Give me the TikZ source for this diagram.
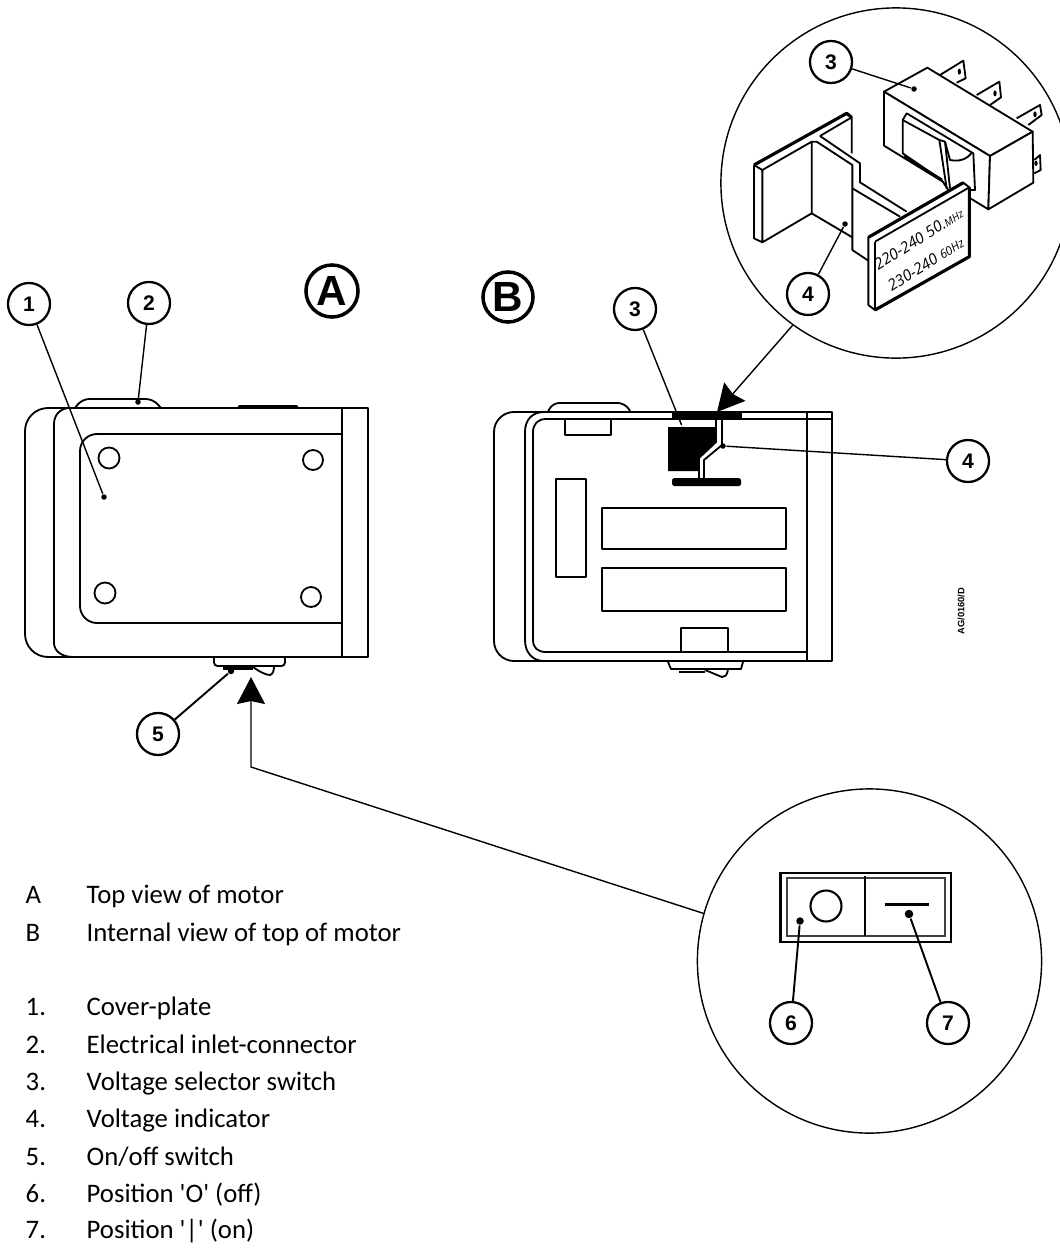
\documentclass[tikz,border=0pt]{standalone}
\usepackage{fontspec}
\setmainfont{Carlito}
\newfontfamily\calloutfont{Liberation Sans}
\newfontfamily\handfont{Open Sans}
\usetikzlibrary{arrows.meta}

\tikzset{
	outline/.style={line width=.52pt, line join=round},
	thickline/.style={line width=.9pt, line join=round},
	callout/.style={shape=circle, draw=black, fill=white, line width=.65pt, minimum size=4.2mm, inner sep=0pt, font=\calloutfont\bfseries\fontsize{6}{7}\selectfont},
	viewmark/.style={shape=circle, draw=black, line width=1pt, inner sep=0pt, font=\calloutfont\bfseries\fontsize{12}{13}\selectfont},
	lens/.style={shape=circle, draw=black, line width=.4pt, inner sep=0pt},
	dotmark/.style={shape=circle, fill=black, inner sep=0pt, minimum size=.55mm},
	legend/.style={anchor=base west, inner sep=0pt, font=\fontsize{7.6}{9}\selectfont},
	hand/.style={rotate=32, inner sep=0pt, align=left, font=\handfont\itshape\fontsize{4.4}{7.2}\selectfont},
}

\begin{document}
\begin{tikzpicture}[x=.01cm, y=-.01cm]
	\useasboundingbox (0,0) rectangle (1059,1248);

	% enlarged views
	\node[lens, minimum size=3.5cm] (lenstop) at (896,183) {};
	\node[lens, minimum size=3.44cm] (lensbottom) at (869.5,961) {};

	% motor A
	\draw[outline] (48,408) -- (368,408) -- (368,657) -- (48,657) arc[start angle=90, end angle=180, radius=23] -- (25,431) arc[start angle=180, end angle=270, radius=23];
	\draw[outline] (68,408) .. controls (60,409) and (54,415) .. (54,424) -- (54,643) .. controls (54,651) and (62,657) .. (73,657);
	\draw[outline] (342,408) -- (342,657);
	\draw[outline] (342,434) -- (97,434) arc[start angle=270, end angle=180, radius=17] -- (80,606) arc[start angle=180, end angle=90, radius=17] -- (342,623);
	\draw[outline] (109,458) circle[radius=10.5];
	\draw[outline] (313,460) circle[radius=10];
	\draw[outline] (105,593) circle[radius=10.5];
	\draw[outline] (311,597) circle[radius=10];
	\draw[outline, rounded corners=2] (75,408) -- (82,399) -- (153,399) -- (161,408);
	\fill (237,408) -- (239,405) -- (297,405) -- (299,408) -- cycle;
	\draw[outline, rounded corners=1] (214,658) -- (214,666) -- (285,666) -- (285,658);
	\fill (223,666) rectangle (253,670);
	\draw[outline] (253,667) .. controls (260,672) and (266,675) .. (270,675) .. controls (273,674) and (274,671) .. (274,666);

	% motor B
	\draw[outline] (514,412) -- (832,412) -- (832,661) -- (514,661) arc[start angle=90, end angle=180, radius=20] -- (494,432) arc[start angle=180, end angle=270, radius=20];
	\draw[outline] (544,412) .. controls (532,412) and (525,420) .. (525,432) -- (525,640) .. controls (525,653) and (533,661) .. (544,661);
	\draw[outline] (546,419) -- (832,419);
	\draw[outline] (546,419) .. controls (538,419) and (533,424) .. (533,432) -- (533,640) .. controls (533,648) and (538,652) .. (546,652) -- (807,652);
	\draw[outline] (807,412) -- (807,661);
	\draw[outline, rounded corners=2] (548,412) -- (552,403) -- (625,403) -- (630,411);
	\draw[outline] (565,420) -- (565,435) -- (611,435) -- (611,420);
	\fill (672,412) rectangle (742,419);
	\fill (668,427) -- (716,427) -- (716,442) -- (699,458) -- (699,471) -- (668,471) -- cycle;
	\draw[outline] (716,419) -- (716,442) -- (699,458) -- (699,478);
	\draw[outline] (722,419) -- (722,445) -- (704,460) -- (704,478);
	\fill[rounded corners=.5] (672,478) rectangle (741,486);
	\draw[outline] (556,479) rectangle (586,577);
	\draw[outline] (602,508) rectangle (786,549);
	\draw[outline] (602,568) rectangle (786,611);
	\draw[outline] (681,652) -- (681,628) -- (728,628) -- (728,652);
	\draw[outline] (668,662) -- (671,669) -- (741,669) -- (743,662);
	\draw[line width=.8pt] (679,672) -- (705,672);
	\draw[outline] (705,670) -- (722,677) .. controls (725,677) and (727,676) .. (728,669);

	% voltage selector switch and voltage indicator, traced on a 3x grid
	\begin{scope}[shift={(700,0)}, x=.01cm/3, y=-.01cm/3]
		\draw[outline] (720,225) -- (790,182) -- (797,235) -- (770,248);
		\draw[outline] (830,285) -- (898,245) -- (903,292) -- (870,315);
		\draw[outline] (950,355) -- (1020,315) -- (1025,345) -- (985,375);
		\draw[outline] (1003,480) -- (1020,465) -- (1022,510) -- (1003,520);
		\fill (778,215) ellipse[x radius=5, y radius=9];
		\fill (885,280) ellipse[x radius=5, y radius=9];
		\fill (1005,343) ellipse[x radius=5, y radius=9];
		\fill (1008,490) ellipse[x radius=5, y radius=8];
		\draw[outline, fill=white] (552,275) -- (682,203) -- (998,395) -- (870,468) -- cycle;
		\draw[outline, fill=white] (552,275) -- (552,437) -- (865,628) -- (870,468) -- cycle;
		\draw[outline, fill=white] (870,468) -- (998,395) -- (1000,548) -- (865,628) -- cycle;
		\draw[outline, fill=white] (620,340) -- (820,460) -- (825,570) -- (745,570) -- (725,540) -- (608,460) -- (608,360) -- cycle;
		\draw[outline] (608,360) -- (718,420) -- (740,565);
		\draw[outline] (718,420) -- (735,425) -- (750,480) .. controls (775,485) and (800,480) .. (815,458);
		\draw[outline] (735,425) -- (750,565);
		\draw[thickline] (612,470) -- (725,540);

		\draw[thickline] (162,495) -- (440,340) -- (455,352);
		\draw[outline] (162,495) -- (162,715) -- (187,727) -- (335,640) -- (335,425) -- (187,510) -- (187,727);
		\draw[outline] (162,495) -- (187,510);
		\draw[outline] (360,408) -- (455,352) -- (455,460);
		\draw[outline] (335,425) -- (350,425) -- (457,495) -- (457,750) -- (505,782);
		\draw[outline] (335,640) -- (457,712);
		\draw[outline] (360,408) -- (480,490) -- (480,547) -- (620,635);
		\draw[outline] (457,565) -- (600,650);
		\draw[outline, fill=white] (505,712) -- (790,548) -- (808,562) -- (808,770) -- (525,930) -- (505,915) -- cycle;
		\draw[thickline] (505,712) -- (790,548);
		\draw[thickline] (525,930) -- (808,770) -- (808,562);
		\draw[outline] (525,725) -- (808,562);
		\draw[outline] (525,725) -- (525,930);
		\node[hand] (volt) at (676,748) {220-240 50.{\fontsize{3}{3}\selectfont MHz}\\230-240 {\fontsize{3.4}{3}\selectfont 60Hz}};
	\end{scope}

	% on/off switch, enlarged
	\draw[line width=.6pt] (780.5,873) rectangle (951,942);
	\draw[line width=.55pt, black!75] (787,878) rectangle (945,936);
	\draw[line width=.55pt] (865,876) -- (865,936);
	\draw[line width=.6pt] (826,906) circle[radius=15.5];
	\draw[line width=.8pt] (885,904.5) -- (929,904.5);

	% view marks
	\node[viewmark, minimum size=5.2mm] (viewa) at (332,291) {A};
	\node[viewmark, minimum size=5mm] (viewb) at (508,297) {B};

	% callouts
	\node[callout] (c1) at (29,304) {1};
	\node[callout] (c2) at (149,303) {2};
	\node[callout] (c3) at (635,309) {3};
	\node[callout] (c4) at (968,461) {4};
	\node[callout] (c5) at (158,734) {5};
	\node[callout] (c6) at (791,1023) {6};
	\node[callout] (c7) at (948,1023) {7};
	\node[callout] (c3up) at (831,62) {3};
	\node[callout] (c4up) at (808,294) {4};

	\node[dotmark] (d1) at (104,497) {};
	\node[dotmark] (d2) at (138,402) {};
	\node[dotmark, minimum size=.1mm] (d3) at (682,426) {};
	\node[dotmark] (d4) at (723,446) {};
	\node[dotmark, minimum size=.65mm] (d5) at (231,671) {};
	\node[dotmark, minimum size=.75mm] (d6) at (800,921) {};
	\node[dotmark, minimum size=.85mm] (d7) at (909,914) {};
	\node[dotmark] (d3up) at (914,89) {};
	\node[dotmark] (d4up) at (845,224) {};

	\begin{scope}[line width=.4pt]
		\path [draw] (c1) edge (d1);
		\path [draw] (c2) edge (d2);
		\path [draw] (c3) edge (d3);
		\path [draw] (c4) edge (d4);
		\path [draw, line width=.55pt] (c5) edge (d5);
		\path [draw, line width=.55pt] (c6) edge (d6);
		\path [draw, line width=.55pt] (c7) edge (d7);
		\path [draw] (c3up) edge (d3up);
		\path [draw] (c4up) edge (d4up);
	\end{scope}

	% arrows from the enlarged views
	\coordinate (tiptop) at (717,412);
	\coordinate (tipbottom) at (251,677);
	\coordinate (bend) at (251,767);
	\begin{scope}[>={Stealth[black, length=2.7mm, width=2.8mm, inset=.3mm]}, line width=.4pt]
		\draw [->] (lenstop.234) -- (tiptop);
		\draw [->] (lensbottom.164) -- (bend) -- (tipbottom);
	\end{scope}

	% legend
	\foreach \tag/\entry/\ypos/\idx in {A/Top view of motor/903/a, B/Internal view of top of motor/941/b, 1./Cover-plate/1015/1, 2./Electrical inlet-connector/1053/2, 3./Voltage selector switch/1090/3, 4./Voltage indicator/1127/4, 5./On\slash off switch/1165/5, 6./Position \textquotesingle O\textquotesingle{} (off)/1202/6, 7./Position \textquotesingle|\textquotesingle{} (on)/1238/7} {
		\node[legend] (tag\idx) at (25,\ypos) {\tag};
		\node[legend] (entry\idx) at (86,\ypos) {\entry};
	}

	\node[rotate=90, inner sep=0pt, font=\calloutfont\bfseries\fontsize{2.65}{4}\selectfont] (drawingno) at (961,611) {AG/0160/D};
\end{tikzpicture}
\end{document}
